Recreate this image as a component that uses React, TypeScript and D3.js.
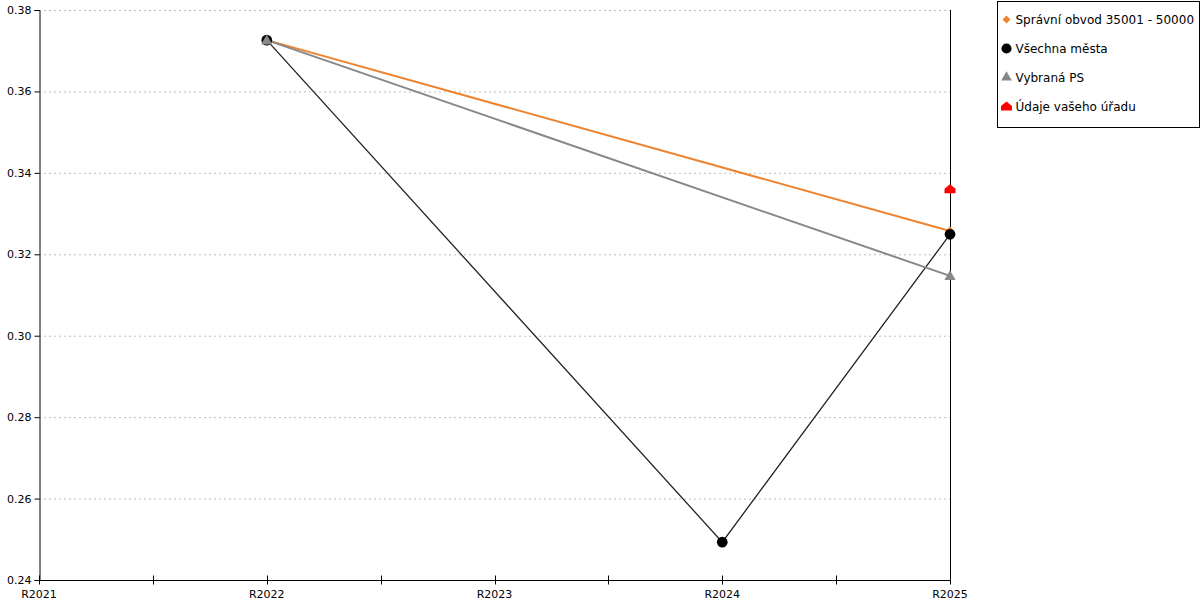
import React, { useEffect, useRef } from "react"
import * as d3 from "d3"

const categories = ["R2021", "R2022", "R2023", "R2024", "R2025"]
const yTicks = [0.24, 0.26, 0.28, 0.3, 0.32, 0.34, 0.36, 0.38]

// null = no value for that year
const obvodValues = [null, 0.3726, null, null, 0.3257]
const mestaValues = [null, 0.3726, null, 0.2493, 0.3249]
const psValues = [null, 0.3726, null, null, 0.3147]
const uradValues = [null, null, null, null, 0.336]

const legendLabels = ["Správní obvod 35001 - 50000", "Všechna města", "Vybraná PS", "Údaje vašeho úřadu"]

export default function App() {
  const svgRef = useRef<SVGSVGElement>(null)

  useEffect(() => {
    document.body.style.margin = "0"
    if (!svgRef.current) return
    const svg = d3.select(svgRef.current)
    svg.selectAll("*").remove()

    const margin = { top: 10, left: 39, right: 250, bottom: 20 }
    const W = 1200
    const H = 600
    const x = d3.scalePoint().domain(categories).range([margin.left, W - margin.right])
    const y = d3.scaleLinear().domain([0.24, 0.38]).range([H - margin.bottom, margin.top])

    const font = "DejaVu Sans, Verdana, sans-serif"

    // grid
    svg
      .append("g")
      .selectAll("line")
      .data(yTicks.slice(1))
      .enter()
      .append("line")
      .attr("x1", margin.left)
      .attr("x2", W - margin.right)
      .attr("y1", (d) => y(d) + 0.5)
      .attr("y2", (d) => y(d) + 0.5)
      .attr("stroke", "#bdbdbd")
      .attr("stroke-dasharray", "2,3")

    // y axis
    const yAxis = svg
      .append("g")
      .attr("transform", `translate(${margin.left + 0.5},0)`)
      .call(d3.axisLeft(y).tickValues(yTicks).tickFormat(d3.format(".2f")).tickSize(5).tickPadding(3))
    yAxis.select(".domain").attr("stroke", "#000")
    yAxis.selectAll("text").style("font-family", font).style("font-size", "11px").attr("fill", "#000")

    // right line
    svg
      .append("line")
      .attr("x1", W - margin.right + 0.5)
      .attr("x2", W - margin.right + 0.5)
      .attr("y1", margin.top)
      .attr("y2", H - margin.bottom)
      .attr("stroke", "#000")

    // x axis
    const xAxisG = svg.append("g").attr("transform", `translate(0,${H - margin.bottom + 0.5})`)
    xAxisG
      .append("line")
      .attr("x1", margin.left)
      .attr("x2", W - margin.right)
      .attr("stroke", "#000")
    const step = x.step()
    const tickPos: number[] = []
    categories.forEach((c, i) => {
      tickPos.push(x(c)!)
      if (i < categories.length - 1) tickPos.push(x(c)! + step / 2)
    })
    xAxisG
      .selectAll("line.tick")
      .data(tickPos)
      .enter()
      .append("line")
      .attr("class", "tick")
      .attr("x1", (d) => Math.round(d) + 0.5)
      .attr("x2", (d) => Math.round(d) + 0.5)
      .attr("y1", -5)
      .attr("y2", 4)
      .attr("stroke", "#000")
    xAxisG
      .selectAll("text")
      .data(categories)
      .enter()
      .append("text")
      .attr("x", (d) => x(d)!)
      .attr("y", 17)
      .attr("text-anchor", "middle")
      .style("font-family", font)
      .style("font-size", "11px")
      .text((d) => d)

    const pts = (vals: (number | null)[]) =>
      vals
        .map((v, i) => ({ c: categories[i], v }))
        .filter((d) => d.v !== null) as { c: string; v: number }[]

    const line = d3
      .line<{ c: string; v: number }>()
      .x((d) => x(d.c)!)
      .y((d) => y(d.v))

    const drawLine = (vals: (number | null)[], color: string, w: number) => {
      svg
        .append("path")
        .datum(pts(vals))
        .attr("d", line)
        .attr("fill", "none")
        .attr("stroke", color)
        .attr("stroke-width", w)
    }

    const orange = "#ee8430"
    const gray = "#888888"
    const black = "#000000"
    const red = "#ff0000"

    drawLine(mestaValues, "#222", 1.3)
    drawLine(obvodValues, orange, 2)
    drawLine(psValues, gray, 2)

    const diamond = "M0,-4.5 L4.5,0 L0,4.5 L-4.5,0 Z"
    const circle = d3.symbol(d3.symbolCircle, 90)
    const triangle = d3.symbol(d3.symbolTriangle, 55)
    const house = "M0,-5 L5.5,-0.5 L5.5,4 L-5.5,4 L-5.5,-0.5 Z"

    const drawMarkers = (vals: (number | null)[], path: string, color: string, dy = 0) => {
      svg
        .append("g")
        .selectAll("path")
        .data(pts(vals))
        .enter()
        .append("path")
        .attr("transform", (d) => `translate(${x(d.c)},${y(d.v) + dy})`)
        .attr("d", path)
        .attr("fill", color)
    }

    drawMarkers(obvodValues, diamond, orange)
    drawMarkers(mestaValues, circle()!, black)
    drawMarkers(psValues, triangle()!, gray, 1)
    drawMarkers(uradValues, house, red)

    // legend
    const lg = svg.append("g").attr("transform", "translate(997.5,1.5)")
    lg.append("rect").attr("width", 202).attr("height", 126).attr("fill", "#fff").attr("stroke", "#000")
    const shapes = [
      { p: "M0,-4 L4,0 L0,4 L-4,0 Z", c: orange },
      { p: d3.symbol(d3.symbolCircle, 80)()!, c: black },
      { p: d3.symbol(d3.symbolTriangle, 50)()!, c: gray },
      { p: house, c: red },
    ]
    legendLabels.forEach((label, i) => {
      const yy = 18 + i * 29
      lg.append("path").attr("d", shapes[i].p).attr("fill", shapes[i].c).attr("transform", `translate(9,${yy})`)
      lg.append("text")
        .attr("x", 18)
        .attr("y", yy + 4)
        .style("font-family", font)
        .style("font-size", "12px")
        .text(label)
    })
  }, [])

  return (
    <svg
      ref={svgRef}
      width={1200}
      height={600}
      style={{ position: "absolute", left: 0, top: 0, background: "#fff" }}
    />
  )
}
